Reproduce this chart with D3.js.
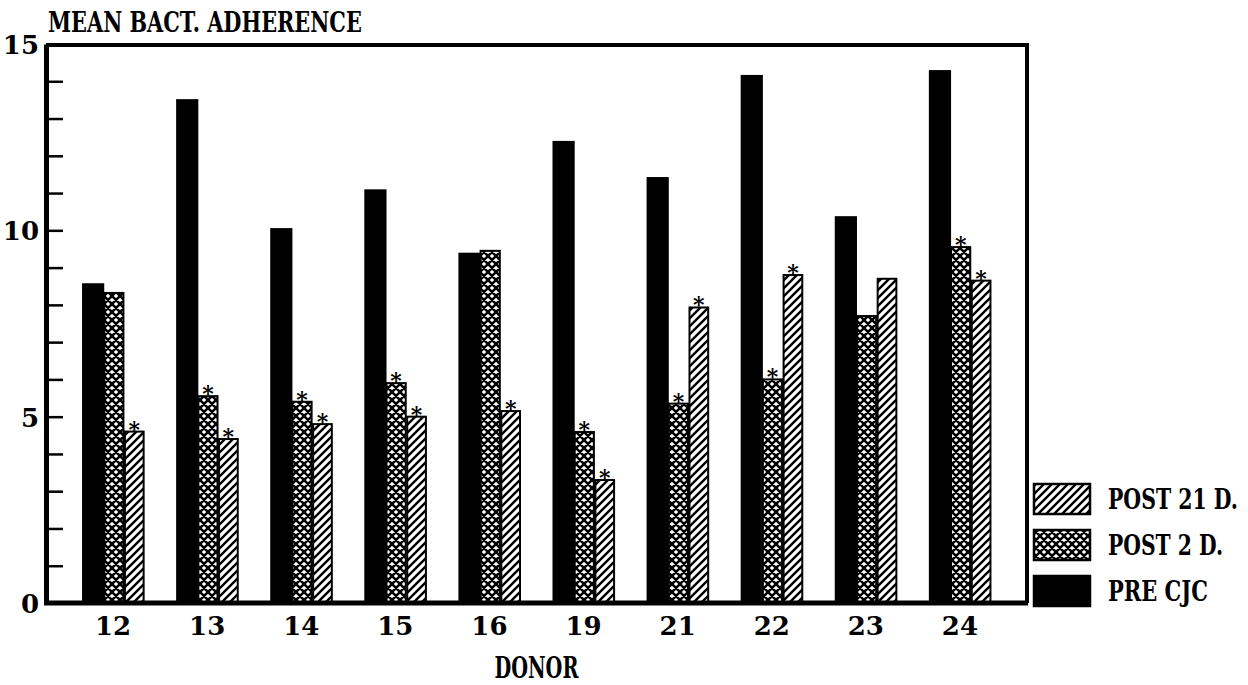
<!DOCTYPE html>
<html>
<head>
<meta charset="utf-8">
<script src="https://cdn.jsdelivr.net/npm/d3@7"></script>
<style>
  html, body { margin: 0; padding: 0; background: #fff; }
  svg { display: block; }
  text { font-family: "DejaVu Serif", "Liberation Serif", serif; font-weight: bold; fill: #000; }
</style>
</head>
<body>
<svg id="chart" width="1248" height="685"></svg>
<script>
// Mean bacterial adherence per donor, before and after CJC
const donors   = ["12", "13", "14", "15", "16", "19", "21", "22", "23", "24"];
const preCJC   = [8.58, 13.52, 10.06, 11.1, 9.4, 12.4, 11.43, 14.17, 10.38, 14.3];
const post2D   = [8.32, 5.55, 5.4, 5.9, 9.45, 4.59, 5.35, 6.0, 7.7, 9.55];
const post21D  = [4.6, 4.4, 4.8, 5.0, 5.15, 3.3, 7.93, 8.8, 8.7, 8.65];
// significance markers (asterisks) for the two post-treatment series
const sigPost2D  = [false, true, true, true, false, true, true, true, false, true];
const sigPost21D = [true, true, true, true, true, true, true, true, false, true];

const seriesNames = ["PRE CJC", "POST 2 D.", "POST 21 D."];
const yMajorTicks = [0, 5, 10, 15];
const yMinorTicks = d3.range(1, 15);

const svg = d3.select("#chart");
const plotLeft = 46, plotRight = 1027, plotTop = 44, plotBottom = 603;

const x = d3.scaleBand().domain(donors).range([plotLeft, plotRight])
  .paddingInner(0.34).paddingOuter(0.383);
const xs = d3.scaleBand().domain(seriesNames).range([0, x.bandwidth()]);
const y = d3.scaleLinear().domain([0, 15]).range([plotBottom, plotTop]);

// Draw a text, then squeeze it horizontally so it spans the given width.
function condensedText(parent, str, px, py, size, width, anchor) {
  const g = parent.append("g");
  const t = g.append("text").attr("font-size", size).text(str);
  const natural = t.node().getComputedTextLength();
  const k = Math.min(1, width / natural);
  const x0 = anchor === "middle" ? px - width / 2 : px;
  g.attr("transform", `translate(${x0},${py}) scale(${k},1)`);
  return g;
}

// fill patterns
const defs = svg.append("defs");
const hatch = defs.append("pattern").attr("id", "hatch")
  .attr("patternUnits", "userSpaceOnUse").attr("width", 8).attr("height", 8);
hatch.append("rect").attr("width", 8).attr("height", 8).attr("fill", "#fff");
hatch.append("path").attr("d", "M0,8 L8,0 M-2,2 L2,-2 M6,10 L10,6")
  .attr("stroke", "#000").attr("stroke-width", 2.4);

const cross = defs.append("pattern").attr("id", "cross")
  .attr("patternUnits", "userSpaceOnUse").attr("width", 8).attr("height", 8);
cross.append("rect").attr("width", 8).attr("height", 8).attr("fill", "#fff");
cross.append("path").attr("d", "M0,8 L8,0 M-2,2 L2,-2 M6,10 L10,6 M0,0 L8,8 M-2,6 L2,10 M6,-2 L10,2")
  .attr("stroke", "#000").attr("stroke-width", 2.5);

// per-series horizontal offset/width tweaks inside a group (solid bar is a touch wider)
const series = [
  { name: "PRE CJC",    values: preCJC,  fill: "#000",        stroke: "none", sig: null,       dx: 0,   dw: 1.5 },
  { name: "POST 2 D.",  values: post2D,  fill: "url(#cross)", stroke: "#000", sig: sigPost2D,  dx: 1.5, dw: -1.5 },
  { name: "POST 21 D.", values: post21D, fill: "url(#hatch)", stroke: "#000", sig: sigPost21D, dx: 1.5, dw: -2 }
];

// bars
series.forEach(s => {
  const g = svg.append("g");
  g.selectAll("rect").data(donors).join("rect")
    .attr("x", d => x(d) + xs(s.name) + s.dx)
    .attr("y", (d, i) => y(s.values[i]))
    .attr("width", xs.bandwidth() + s.dw)
    .attr("height", (d, i) => y(0) - y(s.values[i]))
    .attr("fill", s.fill)
    .attr("stroke", s.stroke)
    .attr("stroke-width", 2);
  if (s.sig) {
    g.selectAll("text").data(donors.filter((d, i) => s.sig[i])).join("text")
      .attr("x", d => x(d) + xs(s.name) + s.dx + (xs.bandwidth() + s.dw) / 2)
      .attr("y", d => y(s.values[donors.indexOf(d)]) + 5)
      .attr("text-anchor", "middle")
      .attr("font-size", 22)
      .text("*");
  }
});

// frame: top and right border
svg.append("path")
  .attr("d", `M${plotLeft},${plotTop + 1} H${plotRight} V${plotBottom}`)
  .attr("fill", "none").attr("stroke", "#000").attr("stroke-width", 4);

// y axis: inward minor ticks at every unit
const yMinor = svg.append("g").attr("transform", `translate(${plotLeft},0)`)
  .call(d3.axisLeft(y).tickValues(yMinorTicks).tickSizeInner(-17).tickSizeOuter(0).tickFormat(""));
yMinor.select(".domain").remove();
yMinor.selectAll("line").attr("stroke-width", 2.5);

// y axis labels and axis line
const yAx = svg.append("g").attr("transform", `translate(${plotLeft},0)`)
  .call(d3.axisLeft(y).tickValues(yMajorTicks).tickSize(0).tickPadding(7));
yAx.select(".domain").attr("stroke-width", 5);
yAx.selectAll("text")
  .attr("font-family", null).attr("font-size", 26)
  .attr("dy", "0.36em");

// x axis
const xAx = svg.append("g").attr("transform", `translate(0,${plotBottom})`)
  .call(d3.axisBottom(x).tickSize(0).tickPadding(14));
xAx.select(".domain").attr("stroke-width", 5).attr("d", `M${plotLeft - 2},0H${plotRight + 1}`);
xAx.selectAll("text")
  .attr("font-family", null).attr("font-size", 26)
  .attr("dy", "0.71em");

// titles
condensedText(svg, "MEAN BACT. ADHERENCE", 48, 32, 27, 314, "start");
condensedText(svg, "DONOR", (plotLeft + plotRight) / 2, 678, 29, 84, "middle");

// legend (top to bottom: POST 21 D., POST 2 D., PRE CJC)
const legendItems = series.slice().reverse();
const legend = svg.append("g");
const legendWidths = [130, 115, 100];
legendItems.forEach((s, i) => {
  const ly = 484 + i * 46;
  legend.append("rect")
    .attr("x", 1034).attr("y", ly).attr("width", 56).attr("height", 30)
    .attr("fill", s.fill).attr("stroke", "#000").attr("stroke-width", 2.5);
  condensedText(legend, s.name, 1108, ly + 25, 28, legendWidths[i], "start");
});
</script>
</body>
</html>
